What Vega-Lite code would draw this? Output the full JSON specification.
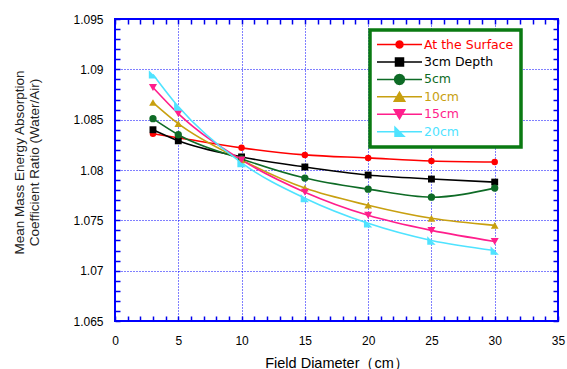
{
  "$schema": "https://vega.github.io/schema/vega-lite/v6.json",
  "width": 443,
  "height": 302,
  "autosize": {"type": "none"},
  "padding": {"left": 115, "top": 19, "right": 9, "bottom": 48},
  "background": "white",
  "config": {
    "view": {"stroke": "#0000FF", "strokeWidth": 2},
    "font": "Liberation Sans"
  },
  "data": {
    "values": [
      {"series": "At the Surface", "x": 3, "y": 1.0836},
      {"series": "At the Surface", "x": 5, "y": 1.0832},
      {"series": "At the Surface", "x": 10, "y": 1.0822},
      {"series": "At the Surface", "x": 15, "y": 1.0815},
      {"series": "At the Surface", "x": 20, "y": 1.0812},
      {"series": "At the Surface", "x": 25, "y": 1.0809},
      {"series": "At the Surface", "x": 30, "y": 1.0808},
      {"series": "3cm Depth", "x": 3, "y": 1.0840},
      {"series": "3cm Depth", "x": 5, "y": 1.0829},
      {"series": "3cm Depth", "x": 10, "y": 1.0813},
      {"series": "3cm Depth", "x": 15, "y": 1.0803},
      {"series": "3cm Depth", "x": 20, "y": 1.0795},
      {"series": "3cm Depth", "x": 25, "y": 1.0791},
      {"series": "3cm Depth", "x": 30, "y": 1.0788},
      {"series": "5cm", "x": 3, "y": 1.0851},
      {"series": "5cm", "x": 5, "y": 1.0835},
      {"series": "5cm", "x": 10, "y": 1.0811},
      {"series": "5cm", "x": 15, "y": 1.0792},
      {"series": "5cm", "x": 20, "y": 1.0781},
      {"series": "5cm", "x": 25, "y": 1.0773},
      {"series": "5cm", "x": 30, "y": 1.0782},
      {"series": "10cm", "x": 3, "y": 1.0867},
      {"series": "10cm", "x": 5, "y": 1.0846},
      {"series": "10cm", "x": 10, "y": 1.0810},
      {"series": "10cm", "x": 15, "y": 1.0782},
      {"series": "10cm", "x": 20, "y": 1.0765},
      {"series": "10cm", "x": 25, "y": 1.0752},
      {"series": "10cm", "x": 30, "y": 1.0745},
      {"series": "15cm", "x": 3, "y": 1.0882},
      {"series": "15cm", "x": 5, "y": 1.0856},
      {"series": "15cm", "x": 10, "y": 1.0810},
      {"series": "15cm", "x": 15, "y": 1.0778},
      {"series": "15cm", "x": 20, "y": 1.0755},
      {"series": "15cm", "x": 25, "y": 1.0740},
      {"series": "15cm", "x": 30, "y": 1.0729},
      {"series": "20cm", "x": 3, "y": 1.0895},
      {"series": "20cm", "x": 5, "y": 1.0863},
      {"series": "20cm", "x": 10, "y": 1.0807},
      {"series": "20cm", "x": 15, "y": 1.0772},
      {"series": "20cm", "x": 20, "y": 1.0747},
      {"series": "20cm", "x": 25, "y": 1.0730},
      {"series": "20cm", "x": 30, "y": 1.0720}
    ]
  },
  "resolve": {"axis": {"x": "independent", "y": "independent"}},
  "layer": [
    {
      "mark": {"type": "line", "interpolate": "monotone", "strokeWidth": 1.6},
      "encoding": {
        "x": {
          "field": "x", "type": "quantitative",
          "scale": {"domain": [0, 35], "nice": false},
          "axis": {
            "orient": "bottom", "offset": -5,
            "values": [0,1,2,3,4,5,6,7,8,9,10,11,12,13,14,15,16,17,18,19,20,21,22,23,24,25,26,27,28,29,30,31,32,33,34,35],
            "labelExpr": "datum.value % 5 === 0 ? datum.label : ''",
            "labelFontSize": 12, "labelColor": "#000000", "labelPadding": 14,
            "labelFlush": false,
            "ticks": true, "tickSize": 5, "tickColor": "#0000EE", "tickWidth": 1.5, "tickOpacity": 1,
            "domain": false,
            "grid": true, "gridColor": "#0000FF", "gridDash": [1, 2], "gridWidth": 1,
            "gridOpacity": {"condition": {"test": "datum.value % 5 === 0 && datum.value > 0 && datum.value < 35", "value": 1}, "value": 0},
            "title": "Field Diameter（cm）",
            "titleFontSize": 14.5, "titleFontWeight": "normal", "titleColor": "#000000",
            "titleBaseline": "alphabetic", "titleY": 51, "titleX": 221.5, "titleAlign": "center"
          }
        },
        "y": {
          "field": "y", "type": "quantitative",
          "scale": {"domain": [1.065, 1.095], "nice": false, "zero": false},
          "axis": {
            "orient": "left", "offset": -5,
            "values": [1.065,1.066,1.067,1.068,1.069,1.07,1.071,1.072,1.073,1.074,1.075,1.076,1.077,1.078,1.079,1.08,1.081,1.082,1.083,1.084,1.085,1.086,1.087,1.088,1.089,1.09,1.091,1.092,1.093,1.094,1.095],
            "labelExpr": "round(datum.value * 1000) % 5 === 0 ? format(datum.value, '.3~f') : ''",
            "labelFontSize": 12, "labelColor": "#000000", "labelPadding": 12,
            "labelFlush": false,
            "ticks": true, "tickSize": 5, "tickColor": "#0000EE", "tickWidth": 1.5, "tickOpacity": 1,
            "domain": false,
            "grid": true, "gridColor": "#0000FF", "gridDash": [1, 2], "gridWidth": 1,
            "gridOpacity": {"condition": {"test": "round(datum.value * 1000) % 5 === 0 && datum.value > 1.0651 && datum.value < 1.0949", "value": 1}, "value": 0},
            "title": ["Mean Mass Energy Absorption", "Coefficient Ratio (Water/Air)"],
            "titleFontSize": 13.5, "titleFontWeight": "normal", "titleColor": "#222222",
            "titleAngle": -90, "titleAlign": "center", "titleBaseline": "middle",
            "titleLineHeight": 15, "titleX": -101, "titleY": 143
          }
        },
        "color": {
          "field": "series", "type": "nominal",
          "scale": {
            "domain": ["At the Surface", "3cm Depth", "5cm", "10cm", "15cm", "20cm"],
            "range": ["#FF0000", "#000000", "#0E6B26", "#C8A010", "#FF1E8C", "#4FE3FF"]
          },
          "legend": {
            "title": null,
            "orient": "none",
            "legendX": 255,
            "legendY": 11,
            "direction": "vertical",
            "fillColor": "#FFFFFF",
            "strokeColor": "#0A7A12",
            "padding": 7,
            "rowPadding": 2.45,
            "clipHeight": 15,
            "symbolSize": 2025,
            "symbolStrokeWidth": 1.5,
            "symbolOffset": -1,
            "labelOffset": 1,
            "labelFont": "DejaVu Sans",
            "labelFontSize": 12.5,
            "labelLimit": 300,
            "encode": {
              "legend": {"update": {"strokeWidth": {"value": 3.5}}},
              "symbols": {
                "update": {
                  "shape": {"signal": "['M-1,0L1,0M0.156,0L0.135,0.078L0.078,0.135L0,0.156L-0.078,0.135L-0.135,0.078L-0.156,0L-0.135,-0.078L-0.078,-0.135L0,-0.156L0.078,-0.135L0.135,-0.078ZM6.06,0L6.06,0', 'M-1,0L1,0M-0.178,-0.178L0.178,-0.178L0.178,0.178L-0.178,0.178ZM6.06,0L6.06,0', 'M-1,0L1,0M0.222,0L0.192,0.111L0.111,0.192L0,0.222L-0.111,0.192L-0.192,0.111L-0.222,0L-0.192,-0.111L-0.111,-0.192L0,-0.222L0.111,-0.192L0.192,-0.111ZM6.06,0L6.06,0', 'M-1,0L1,0M0,-0.2L0.236,0.2L-0.236,0.2ZM6.06,0L6.06,0', 'M-1,0L1,0M-0.236,-0.2L0.236,-0.2L0,0.2ZM6.06,0L6.06,0', 'M-1,0L1,0M-0.2,-0.2L0.2,0.2L-0.2,0.2ZM6.06,0L6.06,0'][datum.index]"},
                  "fill": {"scale": "color", "field": "value"},
                  "stroke": {"scale": "color", "field": "value"},
                  "strokeWidth": {"value": 1.5},
                  "strokeCap": {"value": "butt"},
                  "opacity": {"value": 1}
                }
              },
              "labels": {"update": {"fill": {"scale": "color", "field": "value"}}}
            }
          }
        },
        "detail": {"field": "series"}
      }
    },
    {
      "mark": {"type": "point", "filled": true, "opacity": 1, "strokeWidth": 0},
      "encoding": {
        "x": {
          "field": "x", "type": "quantitative",
          "axis": {
            "orient": "top", "offset": -5,
            "values": [0,1,2,3,4,5,6,7,8,9,10,11,12,13,14,15,16,17,18,19,20,21,22,23,24,25,26,27,28,29,30,31,32,33,34,35],
            "labels": false, "grid": false, "title": null, "domain": false,
            "ticks": true, "tickSize": 5, "tickColor": "#0000EE", "tickWidth": 1.5, "tickOpacity": 1
          }
        },
        "y": {
          "field": "y", "type": "quantitative",
          "axis": {
            "orient": "right", "offset": -5,
            "values": [1.065,1.066,1.067,1.068,1.069,1.07,1.071,1.072,1.073,1.074,1.075,1.076,1.077,1.078,1.079,1.08,1.081,1.082,1.083,1.084,1.085,1.086,1.087,1.088,1.089,1.09,1.091,1.092,1.093,1.094,1.095],
            "labels": false, "grid": false, "title": null, "domain": false,
            "ticks": true, "tickSize": 5, "tickColor": "#0000EE", "tickWidth": 1.5, "tickOpacity": 1
          }
        },
        "fill": {
          "field": "series", "type": "nominal",
          "sort": ["At the Surface", "3cm Depth", "5cm", "10cm", "15cm", "20cm"],
          "scale": {"range": ["#FF0000", "#000000", "#0E6B26", "#C8A010", "#FF1E8C", "#4FE3FF"]},
          "legend": null
        },
        "shape": {
          "field": "series", "type": "nominal",
          "sort": ["At the Surface", "3cm Depth", "5cm", "10cm", "15cm", "20cm"],
          "scale": {"range": ["circle", "square", "circle", "triangle-up", "triangle-down", "M-1,-1L1,1L-1,1Z"]},
          "legend": null
        },
        "size": {
          "field": "series", "type": "nominal",
          "sort": ["At the Surface", "3cm Depth", "5cm", "10cm", "15cm", "20cm"],
          "scale": {"range": [42, 70, 90, 100, 100, 80]},
          "legend": null
        }
      }
    }
  ]
}
